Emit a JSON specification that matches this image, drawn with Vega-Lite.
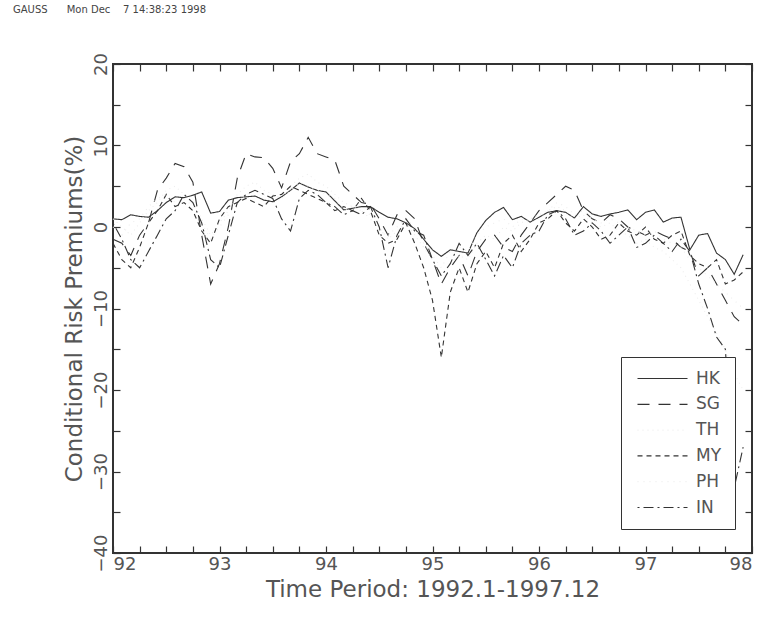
{
"$schema": "https://vega.github.io/schema/vega-lite/v6.json",
"width": 639, "height": 489,
"autosize": {"type": "none"},
"padding": {"left": 113, "top": 64, "right": 13, "bottom": 68},
"background": "white",
"title": {"text": "GAUSS\u00a0\u00a0\u00a0\u00a0\u00a0\u00a0Mon Dec\u00a0\u00a0\u00a0\u00a07 14:38:23 1998", "anchor": "start", "frame": "group", "fontSize": 10, "fontWeight": "normal", "color": "#444", "font": "DejaVu Sans", "offset": 38, "dx": -100},
"config": {"view": {"stroke": "#333", "strokeWidth": 2}, "font": "DejaVu Sans"},
"data": {"values": [
{"t":92,"c":"HK","v":1.0},{"t":92.083,"c":"HK","v":0.9},{"t":92.167,"c":"HK","v":1.5},{"t":92.25,"c":"HK","v":1.3},{"t":92.333,"c":"HK","v":1.2},{"t":92.417,"c":"HK","v":2.0},{"t":92.5,"c":"HK","v":3.0},{"t":92.583,"c":"HK","v":3.7},{"t":92.667,"c":"HK","v":3.6},{"t":92.75,"c":"HK","v":3.9},{"t":92.833,"c":"HK","v":4.3},{"t":92.917,"c":"HK","v":1.7},
{"t":93,"c":"HK","v":1.9},{"t":93.083,"c":"HK","v":3.3},{"t":93.167,"c":"HK","v":3.6},{"t":93.25,"c":"HK","v":3.7},{"t":93.333,"c":"HK","v":3.8},{"t":93.417,"c":"HK","v":3.3},{"t":93.5,"c":"HK","v":3.1},{"t":93.583,"c":"HK","v":3.7},{"t":93.667,"c":"HK","v":4.5},{"t":93.75,"c":"HK","v":5.4},{"t":93.833,"c":"HK","v":4.9},{"t":93.917,"c":"HK","v":4.5},
{"t":94,"c":"HK","v":4.3},{"t":94.083,"c":"HK","v":3.2},{"t":94.167,"c":"HK","v":2.1},{"t":94.25,"c":"HK","v":2.3},{"t":94.333,"c":"HK","v":2.5},{"t":94.417,"c":"HK","v":2.5},{"t":94.5,"c":"HK","v":1.8},{"t":94.583,"c":"HK","v":1.2},{"t":94.667,"c":"HK","v":1.0},{"t":94.75,"c":"HK","v":0.5},{"t":94.833,"c":"HK","v":-0.2},{"t":94.917,"c":"HK","v":-1.5},
{"t":95,"c":"HK","v":-2.8},{"t":95.083,"c":"HK","v":-3.6},{"t":95.167,"c":"HK","v":-2.8},{"t":95.25,"c":"HK","v":-3.0},{"t":95.333,"c":"HK","v":-3.2},{"t":95.417,"c":"HK","v":-0.7},{"t":95.5,"c":"HK","v":0.8},{"t":95.583,"c":"HK","v":1.8},{"t":95.667,"c":"HK","v":2.4},{"t":95.75,"c":"HK","v":0.9},{"t":95.833,"c":"HK","v":1.3},{"t":95.917,"c":"HK","v":0.6},
{"t":96,"c":"HK","v":1.2},{"t":96.083,"c":"HK","v":1.8},{"t":96.167,"c":"HK","v":2.0},{"t":96.25,"c":"HK","v":1.8},{"t":96.333,"c":"HK","v":1.1},{"t":96.417,"c":"HK","v":2.5},{"t":96.5,"c":"HK","v":1.6},{"t":96.583,"c":"HK","v":1.3},{"t":96.667,"c":"HK","v":1.6},{"t":96.75,"c":"HK","v":1.8},{"t":96.833,"c":"HK","v":2.1},{"t":96.917,"c":"HK","v":0.9},
{"t":97,"c":"HK","v":1.8},{"t":97.083,"c":"HK","v":2.1},{"t":97.167,"c":"HK","v":0.6},{"t":97.25,"c":"HK","v":1.1},{"t":97.333,"c":"HK","v":1.2},{"t":97.417,"c":"HK","v":-2.8},{"t":97.5,"c":"HK","v":-1.0},{"t":97.583,"c":"HK","v":-0.8},{"t":97.667,"c":"HK","v":-3.2},{"t":97.75,"c":"HK","v":-4.0},{"t":97.833,"c":"HK","v":-5.8},{"t":97.917,"c":"HK","v":-3.4},
{"t":92,"c":"SG","v":-1.5},{"t":92.083,"c":"SG","v":-2.0},{"t":92.167,"c":"SG","v":-3.5},{"t":92.25,"c":"SG","v":-1.0},{"t":92.333,"c":"SG","v":0.5},{"t":92.417,"c":"SG","v":4.5},{"t":92.5,"c":"SG","v":6.0},{"t":92.583,"c":"SG","v":7.8},{"t":92.667,"c":"SG","v":7.4},{"t":92.75,"c":"SG","v":5.5},{"t":92.833,"c":"SG","v":-1.0},{"t":92.917,"c":"SG","v":-7.0},
{"t":93,"c":"SG","v":-4.5},{"t":93.083,"c":"SG","v":0.0},{"t":93.167,"c":"SG","v":6.0},{"t":93.25,"c":"SG","v":9.0},{"t":93.333,"c":"SG","v":8.6},{"t":93.417,"c":"SG","v":8.5},{"t":93.5,"c":"SG","v":7.2},{"t":93.583,"c":"SG","v":4.8},{"t":93.667,"c":"SG","v":8.0},{"t":93.75,"c":"SG","v":9.0},{"t":93.833,"c":"SG","v":11.0},{"t":93.917,"c":"SG","v":9.0},
{"t":94,"c":"SG","v":8.6},{"t":94.083,"c":"SG","v":8.2},{"t":94.167,"c":"SG","v":5.0},{"t":94.25,"c":"SG","v":4.0},{"t":94.333,"c":"SG","v":3.0},{"t":94.417,"c":"SG","v":2.8},{"t":94.5,"c":"SG","v":1.0},{"t":94.583,"c":"SG","v":-1.0},{"t":94.667,"c":"SG","v":1.5},{"t":94.75,"c":"SG","v":2.0},{"t":94.833,"c":"SG","v":1.0},{"t":94.917,"c":"SG","v":-2.0},
{"t":95,"c":"SG","v":-4.0},{"t":95.083,"c":"SG","v":-7.0},{"t":95.167,"c":"SG","v":-5.0},{"t":95.25,"c":"SG","v":-3.5},{"t":95.333,"c":"SG","v":-6.0},{"t":95.417,"c":"SG","v":-3.0},{"t":95.5,"c":"SG","v":-1.5},{"t":95.583,"c":"SG","v":-1.0},{"t":95.667,"c":"SG","v":-2.5},{"t":95.75,"c":"SG","v":-3.0},{"t":95.833,"c":"SG","v":-1.0},{"t":95.917,"c":"SG","v":0.5},
{"t":96,"c":"SG","v":2.0},{"t":96.083,"c":"SG","v":3.0},{"t":96.167,"c":"SG","v":4.0},{"t":96.25,"c":"SG","v":5.0},{"t":96.333,"c":"SG","v":4.5},{"t":96.417,"c":"SG","v":2.0},{"t":96.5,"c":"SG","v":1.0},{"t":96.583,"c":"SG","v":0.5},{"t":96.667,"c":"SG","v":1.5},{"t":96.75,"c":"SG","v":1.0},{"t":96.833,"c":"SG","v":0.0},{"t":96.917,"c":"SG","v":-0.5},
{"t":97,"c":"SG","v":-1.0},{"t":97.083,"c":"SG","v":-0.5},{"t":97.167,"c":"SG","v":-1.0},{"t":97.25,"c":"SG","v":-1.5},{"t":97.333,"c":"SG","v":-2.5},{"t":97.417,"c":"SG","v":-3.0},{"t":97.5,"c":"SG","v":-6.0},{"t":97.583,"c":"SG","v":-5.0},{"t":97.667,"c":"SG","v":-7.0},{"t":97.75,"c":"SG","v":-9.0},{"t":97.833,"c":"SG","v":-11.0},{"t":97.917,"c":"SG","v":-12.0},
{"t":92,"c":"TH","v":1.0},{"t":92.083,"c":"TH","v":0.0},{"t":92.167,"c":"TH","v":-1.0},{"t":92.25,"c":"TH","v":0.5},{"t":92.333,"c":"TH","v":2.0},{"t":92.417,"c":"TH","v":3.0},{"t":92.5,"c":"TH","v":4.5},{"t":92.583,"c":"TH","v":5.0},{"t":92.667,"c":"TH","v":4.0},{"t":92.75,"c":"TH","v":3.0},{"t":92.833,"c":"TH","v":1.0},{"t":92.917,"c":"TH","v":-1.0},
{"t":93,"c":"TH","v":0.5},{"t":93.083,"c":"TH","v":2.0},{"t":93.167,"c":"TH","v":4.0},{"t":93.25,"c":"TH","v":5.0},{"t":93.333,"c":"TH","v":5.5},{"t":93.417,"c":"TH","v":4.5},{"t":93.5,"c":"TH","v":4.0},{"t":93.583,"c":"TH","v":3.5},{"t":93.667,"c":"TH","v":5.0},{"t":93.75,"c":"TH","v":6.0},{"t":93.833,"c":"TH","v":6.5},{"t":93.917,"c":"TH","v":5.5},
{"t":94,"c":"TH","v":5.0},{"t":94.083,"c":"TH","v":4.0},{"t":94.167,"c":"TH","v":3.0},{"t":94.25,"c":"TH","v":2.5},{"t":94.333,"c":"TH","v":2.0},{"t":94.417,"c":"TH","v":1.5},{"t":94.5,"c":"TH","v":0.0},{"t":94.583,"c":"TH","v":-1.5},{"t":94.667,"c":"TH","v":-0.5},{"t":94.75,"c":"TH","v":0.5},{"t":94.833,"c":"TH","v":-1.0},{"t":94.917,"c":"TH","v":-2.5},
{"t":95,"c":"TH","v":-4.0},{"t":95.083,"c":"TH","v":-6.0},{"t":95.167,"c":"TH","v":-4.5},{"t":95.25,"c":"TH","v":-3.5},{"t":95.333,"c":"TH","v":-4.0},{"t":95.417,"c":"TH","v":-2.0},{"t":95.5,"c":"TH","v":-1.0},{"t":95.583,"c":"TH","v":-1.5},{"t":95.667,"c":"TH","v":0.0},{"t":95.75,"c":"TH","v":-0.5},{"t":95.833,"c":"TH","v":0.5},{"t":95.917,"c":"TH","v":1.0},
{"t":96,"c":"TH","v":1.5},{"t":96.083,"c":"TH","v":2.0},{"t":96.167,"c":"TH","v":2.5},{"t":96.25,"c":"TH","v":2.0},{"t":96.333,"c":"TH","v":1.0},{"t":96.417,"c":"TH","v":1.5},{"t":96.5,"c":"TH","v":0.5},{"t":96.583,"c":"TH","v":0.0},{"t":96.667,"c":"TH","v":0.5},{"t":96.75,"c":"TH","v":-0.5},{"t":96.833,"c":"TH","v":-1.0},{"t":96.917,"c":"TH","v":-2.0},
{"t":97,"c":"TH","v":-1.5},{"t":97.083,"c":"TH","v":-2.5},{"t":97.167,"c":"TH","v":-3.0},{"t":97.25,"c":"TH","v":-4.0},{"t":97.333,"c":"TH","v":-5.0},{"t":97.417,"c":"TH","v":-7.0},{"t":97.5,"c":"TH","v":-9.0},{"t":97.583,"c":"TH","v":-11.0},{"t":97.667,"c":"TH","v":-13.0},{"t":97.75,"c":"TH","v":-15.0},{"t":97.833,"c":"TH","v":-18.0},{"t":97.917,"c":"TH","v":-20.0},
{"t":92,"c":"MY","v":-2.0},{"t":92.083,"c":"MY","v":-4.0},{"t":92.167,"c":"MY","v":-5.0},{"t":92.25,"c":"MY","v":-2.5},{"t":92.333,"c":"MY","v":0.5},{"t":92.417,"c":"MY","v":2.0},{"t":92.5,"c":"MY","v":4.0},{"t":92.583,"c":"MY","v":2.5},{"t":92.667,"c":"MY","v":3.0},{"t":92.75,"c":"MY","v":2.0},{"t":92.833,"c":"MY","v":-0.5},{"t":92.917,"c":"MY","v":-2.0},
{"t":93,"c":"MY","v":1.0},{"t":93.083,"c":"MY","v":2.5},{"t":93.167,"c":"MY","v":3.0},{"t":93.25,"c":"MY","v":3.5},{"t":93.333,"c":"MY","v":3.0},{"t":93.417,"c":"MY","v":2.5},{"t":93.5,"c":"MY","v":3.8},{"t":93.583,"c":"MY","v":4.0},{"t":93.667,"c":"MY","v":5.0},{"t":93.75,"c":"MY","v":4.5},{"t":93.833,"c":"MY","v":4.0},{"t":93.917,"c":"MY","v":3.5},
{"t":94,"c":"MY","v":3.0},{"t":94.083,"c":"MY","v":2.0},{"t":94.167,"c":"MY","v":2.5},{"t":94.25,"c":"MY","v":2.0},{"t":94.333,"c":"MY","v":3.5},{"t":94.417,"c":"MY","v":2.0},{"t":94.5,"c":"MY","v":-1.0},{"t":94.583,"c":"MY","v":-2.0},{"t":94.667,"c":"MY","v":-1.5},{"t":94.75,"c":"MY","v":0.5},{"t":94.833,"c":"MY","v":-2.0},{"t":94.917,"c":"MY","v":-5.0},
{"t":95,"c":"MY","v":-9.0},{"t":95.083,"c":"MY","v":-16.0},{"t":95.167,"c":"MY","v":-8.0},{"t":95.25,"c":"MY","v":-5.0},{"t":95.333,"c":"MY","v":-8.0},{"t":95.417,"c":"MY","v":-4.5},{"t":95.5,"c":"MY","v":-3.0},{"t":95.583,"c":"MY","v":-5.0},{"t":95.667,"c":"MY","v":-2.0},{"t":95.75,"c":"MY","v":-1.0},{"t":95.833,"c":"MY","v":-3.0},{"t":95.917,"c":"MY","v":-1.5},
{"t":96,"c":"MY","v":0.5},{"t":96.083,"c":"MY","v":1.0},{"t":96.167,"c":"MY","v":2.0},{"t":96.25,"c":"MY","v":0.5},{"t":96.333,"c":"MY","v":-0.5},{"t":96.417,"c":"MY","v":1.0},{"t":96.5,"c":"MY","v":0.0},{"t":96.583,"c":"MY","v":-1.5},{"t":96.667,"c":"MY","v":-1.0},{"t":96.75,"c":"MY","v":0.5},{"t":96.833,"c":"MY","v":-0.5},{"t":96.917,"c":"MY","v":-1.0},
{"t":97,"c":"MY","v":0.0},{"t":97.083,"c":"MY","v":-1.5},{"t":97.167,"c":"MY","v":-2.0},{"t":97.25,"c":"MY","v":-1.0},{"t":97.333,"c":"MY","v":-0.5},{"t":97.417,"c":"MY","v":-3.5},{"t":97.5,"c":"MY","v":-4.5},{"t":97.583,"c":"MY","v":-5.0},{"t":97.667,"c":"MY","v":-4.0},{"t":97.75,"c":"MY","v":-7.0},{"t":97.833,"c":"MY","v":-6.5},{"t":97.917,"c":"MY","v":-5.5},
{"t":92,"c":"PH","v":0.0},{"t":92.083,"c":"PH","v":-1.0},{"t":92.167,"c":"PH","v":0.5},{"t":92.25,"c":"PH","v":1.0},{"t":92.333,"c":"PH","v":2.5},{"t":92.417,"c":"PH","v":3.5},{"t":92.5,"c":"PH","v":4.0},{"t":92.583,"c":"PH","v":3.0},{"t":92.667,"c":"PH","v":3.5},{"t":92.75,"c":"PH","v":2.5},{"t":92.833,"c":"PH","v":0.5},{"t":92.917,"c":"PH","v":-1.5},
{"t":93,"c":"PH","v":0.0},{"t":93.083,"c":"PH","v":1.5},{"t":93.167,"c":"PH","v":3.0},{"t":93.25,"c":"PH","v":4.0},{"t":93.333,"c":"PH","v":4.5},{"t":93.417,"c":"PH","v":4.0},{"t":93.5,"c":"PH","v":3.0},{"t":93.583,"c":"PH","v":3.5},{"t":93.667,"c":"PH","v":4.5},{"t":93.75,"c":"PH","v":5.5},{"t":93.833,"c":"PH","v":5.0},{"t":93.917,"c":"PH","v":4.5},
{"t":94,"c":"PH","v":4.0},{"t":94.083,"c":"PH","v":3.5},{"t":94.167,"c":"PH","v":2.0},{"t":94.25,"c":"PH","v":2.5},{"t":94.333,"c":"PH","v":2.0},{"t":94.417,"c":"PH","v":1.0},{"t":94.5,"c":"PH","v":-0.5},{"t":94.583,"c":"PH","v":-1.0},{"t":94.667,"c":"PH","v":0.0},{"t":94.75,"c":"PH","v":1.0},{"t":94.833,"c":"PH","v":0.0},{"t":94.917,"c":"PH","v":-2.0},
{"t":95,"c":"PH","v":-3.5},{"t":95.083,"c":"PH","v":-5.0},{"t":95.167,"c":"PH","v":-3.0},{"t":95.25,"c":"PH","v":-2.5},{"t":95.333,"c":"PH","v":-3.0},{"t":95.417,"c":"PH","v":-1.0},{"t":95.5,"c":"PH","v":0.0},{"t":95.583,"c":"PH","v":0.5},{"t":95.667,"c":"PH","v":1.0},{"t":95.75,"c":"PH","v":0.0},{"t":95.833,"c":"PH","v":1.0},{"t":95.917,"c":"PH","v":0.5},
{"t":96,"c":"PH","v":1.0},{"t":96.083,"c":"PH","v":2.0},{"t":96.167,"c":"PH","v":3.0},{"t":96.25,"c":"PH","v":2.5},{"t":96.333,"c":"PH","v":1.5},{"t":96.417,"c":"PH","v":2.0},{"t":96.5,"c":"PH","v":1.0},{"t":96.583,"c":"PH","v":0.5},{"t":96.667,"c":"PH","v":1.0},{"t":96.75,"c":"PH","v":0.5},{"t":96.833,"c":"PH","v":0.0},{"t":96.917,"c":"PH","v":-0.5},
{"t":97,"c":"PH","v":-1.0},{"t":97.083,"c":"PH","v":-0.5},{"t":97.167,"c":"PH","v":-1.5},{"t":97.25,"c":"PH","v":-2.0},{"t":97.333,"c":"PH","v":-2.5},{"t":97.417,"c":"PH","v":-4.0},{"t":97.5,"c":"PH","v":-5.0},{"t":97.583,"c":"PH","v":-6.0},{"t":97.667,"c":"PH","v":-7.0},{"t":97.75,"c":"PH","v":-8.0},{"t":97.833,"c":"PH","v":-9.0},{"t":97.917,"c":"PH","v":-10.0},
{"t":92,"c":"IN","v":0.5},{"t":92.083,"c":"IN","v":-1.5},{"t":92.167,"c":"IN","v":-4.0},{"t":92.25,"c":"IN","v":-5.0},{"t":92.333,"c":"IN","v":-3.0},{"t":92.417,"c":"IN","v":-1.0},{"t":92.5,"c":"IN","v":1.0},{"t":92.583,"c":"IN","v":2.0},{"t":92.667,"c":"IN","v":4.0},{"t":92.75,"c":"IN","v":3.0},{"t":92.833,"c":"IN","v":0.5},{"t":92.917,"c":"IN","v":-4.0},
{"t":93,"c":"IN","v":-5.0},{"t":93.083,"c":"IN","v":-1.0},{"t":93.167,"c":"IN","v":3.0},{"t":93.25,"c":"IN","v":4.0},{"t":93.333,"c":"IN","v":4.5},{"t":93.417,"c":"IN","v":4.0},{"t":93.5,"c":"IN","v":3.5},{"t":93.583,"c":"IN","v":1.0},{"t":93.667,"c":"IN","v":-0.5},{"t":93.75,"c":"IN","v":3.5},{"t":93.833,"c":"IN","v":4.5},{"t":93.917,"c":"IN","v":4.0},
{"t":94,"c":"IN","v":3.0},{"t":94.083,"c":"IN","v":2.5},{"t":94.167,"c":"IN","v":1.5},{"t":94.25,"c":"IN","v":2.0},{"t":94.333,"c":"IN","v":1.5},{"t":94.417,"c":"IN","v":2.5},{"t":94.5,"c":"IN","v":0.0},{"t":94.583,"c":"IN","v":-5.0},{"t":94.667,"c":"IN","v":-1.0},{"t":94.75,"c":"IN","v":1.0},{"t":94.833,"c":"IN","v":-0.5},{"t":94.917,"c":"IN","v":-1.0},
{"t":95,"c":"IN","v":-4.0},{"t":95.083,"c":"IN","v":-6.0},{"t":95.167,"c":"IN","v":-4.5},{"t":95.25,"c":"IN","v":-2.0},{"t":95.333,"c":"IN","v":-3.5},{"t":95.417,"c":"IN","v":-2.0},{"t":95.5,"c":"IN","v":-4.0},{"t":95.583,"c":"IN","v":-6.0},{"t":95.667,"c":"IN","v":-3.5},{"t":95.75,"c":"IN","v":-5.0},{"t":95.833,"c":"IN","v":-2.0},{"t":95.917,"c":"IN","v":-1.0},
{"t":96,"c":"IN","v":-0.5},{"t":96.083,"c":"IN","v":1.5},{"t":96.167,"c":"IN","v":2.0},{"t":96.25,"c":"IN","v":1.0},{"t":96.333,"c":"IN","v":-1.0},{"t":96.417,"c":"IN","v":-0.5},{"t":96.5,"c":"IN","v":0.5},{"t":96.583,"c":"IN","v":-0.5},{"t":96.667,"c":"IN","v":-2.0},{"t":96.75,"c":"IN","v":-1.0},{"t":96.833,"c":"IN","v":0.0},{"t":96.917,"c":"IN","v":-2.5},
{"t":97,"c":"IN","v":-2.0},{"t":97.083,"c":"IN","v":-1.0},{"t":97.167,"c":"IN","v":-2.0},{"t":97.25,"c":"IN","v":-3.0},{"t":97.333,"c":"IN","v":-1.5},{"t":97.417,"c":"IN","v":-3.0},{"t":97.5,"c":"IN","v":-7.0},{"t":97.583,"c":"IN","v":-10.0},{"t":97.667,"c":"IN","v":-13.5},{"t":97.75,"c":"IN","v":-15.0},{"t":97.833,"c":"IN","v":-32.0},{"t":97.917,"c":"IN","v":-27.0}
]},
"resolve": {"axis": {"x": "independent", "y": "independent"}},
"layer": [
{"mark": {"type": "line", "strokeWidth": 1.1},
 "encoding": {
  "x": {"field": "t", "type": "quantitative", "scale": {"domain": [92, 98], "nice": false, "zero": false},
   "axis": {"orient": "bottom", "values": [92,92.25,92.5,92.75,93,93.25,93.5,93.75,94,94.25,94.5,94.75,95,95.25,95.5,95.75,96,96.25,96.5,96.75,97,97.25,97.5,97.75,98],
    "labelExpr": "datum.value % 1 === 0 ? format(datum.value, 'd') : ''",
    "domain": false, "grid": false, "tickSize": -7, "tickColor": "#333", "tickWidth": 1.2,
    "labelPadding": 9, "labelFontSize": 18, "labelColor": "#555", "labelFont": "DejaVu Sans",
    "title": "Time Period: 1992.1-1997.12", "titleFontSize": 23, "titleFontWeight": "normal", "titleColor": "#555", "titlePadding": 5}},
  "y": {"field": "v", "type": "quantitative", "scale": {"domain": [-40, 20], "nice": false, "zero": false},
   "axis": {"orient": "left", "values": [-40,-35,-30,-25,-20,-15,-10,-5,0,5,10,15,20],
    "labelExpr": "datum.value % 10 === 0 ? format(datum.value, 'd') : ''",
    "domain": false, "grid": false, "tickSize": -7, "tickColor": "#333", "tickWidth": 1.2,
    "labelAngle": -90, "labelAlign": "center", "labelBaseline": "bottom",
    "labelPadding": 10, "labelFontSize": 18, "labelColor": "#555", "labelFont": "DejaVu Sans",
    "title": "Conditional Risk Premiums(%)", "titleFontSize": 23, "titleFontWeight": "normal", "titleColor": "#555", "titlePadding": 6}},
  "color": {"field": "c", "type": "nominal",
   "scale": {"domain": ["HK","SG","TH","MY","PH","IN"], "range": ["#333333","#333333","#ededed","#333333","#ededed","#333333"]},
   "legend": {"orient": "none", "legendX": 508, "legendY": 293, "title": null, "symbolType": "M-1,0H9", "symbolSize": 100, "symbolStrokeWidth": 1.2, "symbolFillColor": "transparent", "labelFontSize": 17, "labelColor": "#555", "labelFont": "DejaVu Sans", "labelOffset": 45, "rowPadding": 7.8, "padding": 13, "strokeColor": "#333", "fillColor": "white"}},
  "strokeDash": {"field": "c", "type": "nominal",
   "scale": {"domain": ["HK","SG","TH","MY","PH","IN"], "range": [[1,0],[12,9],[1,4],[5,4],[1,5],[2,4,10,4]]},
   "legend": {"orient": "none", "legendX": 508, "legendY": 293, "title": null, "symbolType": "M-1,0H9", "symbolSize": 100, "symbolStrokeWidth": 1.2, "symbolFillColor": "transparent", "labelFontSize": 17, "labelColor": "#555", "labelFont": "DejaVu Sans", "labelOffset": 45, "rowPadding": 7.8, "padding": 13, "strokeColor": "#333", "fillColor": "white"}},
  "order": {"field": "t", "type": "quantitative"}
 }},
{"mark": {"type": "point", "opacity": 0},
 "encoding": {
  "x": {"field": "t", "type": "quantitative",
   "axis": {"orient": "top", "values": [92,92.25,92.5,92.75,93,93.25,93.5,93.75,94,94.25,94.5,94.75,95,95.25,95.5,95.75,96,96.25,96.5,96.75,97,97.25,97.5,97.75,98], "labels": false, "domain": false, "grid": false, "tickSize": -7, "tickColor": "#333", "tickWidth": 1.2, "title": null}},
  "y": {"field": "v", "type": "quantitative",
   "axis": {"orient": "right", "values": [-40,-35,-30,-25,-20,-15,-10,-5,0,5,10,15,20], "labels": false, "domain": false, "grid": false, "tickSize": -7, "tickColor": "#333", "tickWidth": 1.2, "title": null}}
 }}
]
}
